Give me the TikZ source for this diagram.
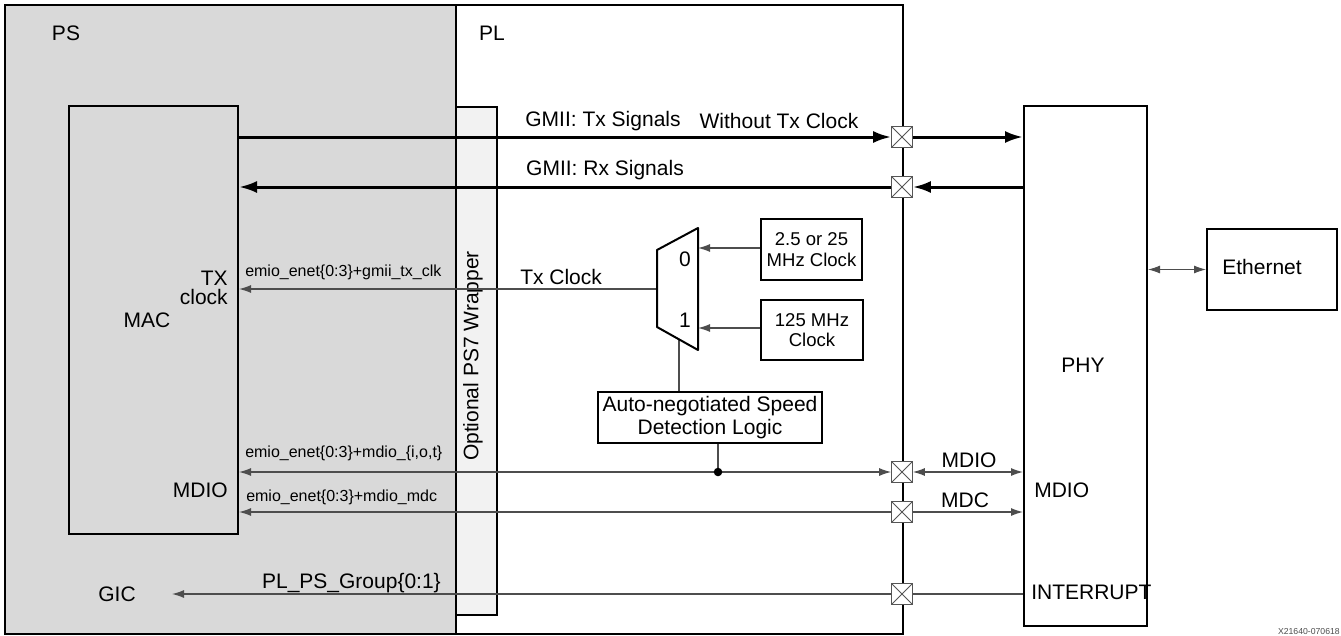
\documentclass[tikz,border=0pt]{standalone}
\usepackage{fontspec}
\setmainfont{Liberation Sans}
\usetikzlibrary{arrows.meta}
\definecolor{psgray}{HTML}{D9D9D9}
\definecolor{wrapgray}{HTML}{F2F2F2}
\definecolor{thingray}{HTML}{4D4D4D}
\definecolor{xgray}{HTML}{555555}
\tikzset{
  blk/.style={draw=black, line width=1.5pt, inner sep=0pt},
  big/.style={font=\fontsize{15.75}{16}\selectfont, inner sep=0pt},
  small/.style={font=\fontsize{12}{13}\selectfont, inner sep=0pt},
  med/.style={font=\fontsize{13.9}{15.5}\selectfont, align=center, inner sep=0pt},
  bus/.style={draw=black, line width=2.25pt},
  sig/.style={draw=thingray, line width=0.9pt},
  bt/.tip={Latex[length=13.5pt,width=9pt]},
  st/.tip={Latex[length=9pt,width=6pt]},
  xbox/.style={draw=xgray, fill=white, line width=0.75pt, minimum size=15.5pt, inner sep=0pt,
    path picture={\draw[xgray, line width=0.75pt]
      (path picture bounding box.north west) -- (path picture bounding box.south east)
      (path picture bounding box.north east) -- (path picture bounding box.south west);}},
}
\begin{document}
\begin{tikzpicture}[x=0.75pt,y=-0.75pt]
\useasboundingbox (0,0) rectangle (1341,635);
% regions
\node[blk, fill=psgray, anchor=north west, minimum width=338.25pt, minimum height=471.75pt] (ps) at (4,4) {};
\node[draw=black, line width=1.2pt, inner sep=0pt, anchor=north west, minimum width=335.25pt, minimum height=471.75pt] (pl) at (455,4) {};
\node[draw=black, line width=1.2pt, fill=wrapgray, inner sep=0pt, anchor=north west, minimum width=30.75pt, minimum height=381pt] (wrap) at (455,106) {};
\node[big, rotate=90] (wraptext) at (473,356) {Optional PS7 Wrapper};
\node[big] (pslabel) at (66,33) {PS};
\node[big] (pllabel) at (492,33) {PL};
% main blocks
\node[blk, anchor=north west, minimum width=126.75pt, minimum height=321pt] (mac) at (68,105) {};
\node[blk, anchor=north west, minimum width=92.25pt, minimum height=390pt] (phy) at (1023,105) {};
\node[blk, anchor=north west, minimum width=97.5pt, minimum height=60.75pt] (eth) at (1206,228) {};
\node[big] (ethtext) at (1262,267) {Ethernet};
\node[big] (phytext) at (1083,365) {PHY};
\node[big] (mactext) at (147,320) {MAC};
\node[font=\fontsize{15.75}{14}\selectfont, inner sep=0pt, align=right, anchor=east] (txclklab) at (228,288) {TX\\clock};
\node[big, anchor=east] (macmdio) at (228,490) {MDIO};
\node[big, anchor=west] (phymdio) at (1034,490) {MDIO};
\node[big, anchor=west] (phyint) at (1031,592) {INTERRUPT};
\node[big] (gic) at (117,594) {GIC};
% clock boxes and logic
\node[blk, med, anchor=north west, minimum width=75.75pt, minimum height=45.75pt] (clka) at (760,218) {2.5 or 25\\MHz Clock};
\node[blk, med, anchor=north west, minimum width=76.5pt, minimum height=45pt] (clkb) at (760,299) {125 MHz\\Clock};
\node[blk, med, font=\fontsize{15.75}{17}\selectfont, anchor=north west, minimum width=168pt, minimum height=38.25pt] (auto) at (597,391) {Auto-negotiated Speed\\Detection Logic};
% mux
\coordinate (mtl) at (657,250);
\coordinate (mtr) at (698,228);
\coordinate (mbr) at (698,350);
\coordinate (mbl) at (657,327);
\coordinate (muxout) at (657,289);
\coordinate (in0) at (698,248);
\coordinate (in1) at (698,328);
\coordinate (sel) at (679,339);
\coordinate (dot) at (718,472);
\coordinate (gictip) at (172,594);
% x-boxes on the PL edge
\node[xbox] (xa) at (902,137) {};
\node[xbox] (xb) at (902,187) {};
\node[xbox] (xc) at (902,472) {};
\node[xbox] (xd) at (902,512) {};
\node[xbox] (xe) at (902,594) {};
% GMII buses
\draw[bus, -{bt}] (mac.east |- xa) -- (xa.west);
\draw[bus, -{bt}] (xa.east) -- (xa -| phy.west);
\draw[bus, -{bt}] (xb -| phy.west) -- (xb.east);
\draw[bus, -{bt}] (xb.west) -- (xb -| mac.east);
\node[big] (txsig) at (603,121) {GMII: Tx Signals};
\node[big] (txwo) at (779,121) {Without Tx Clock};
\node[big] (rxsig) at (605,170) {GMII: Rx Signals};
% Tx clock
\draw[sig, -{st}] (muxout) -- (muxout -| mac.east);
\node[small, anchor=west] (emio1) at (245,272) {emio\_enet\{0:3\}+gmii\_tx\_clk};
\node[big, anchor=west] (txclk) at (520,277) {Tx Clock};
\draw[sig, -{st}] (clka.west |- in0) -- (in0);
\draw[sig, -{st}] (clkb.west |- in1) -- (in1);
\draw[sig] (sel) -- (sel |- auto.north);
\draw[sig] (dot |- auto.south) -- (dot);
\draw[black, line width=1.5pt, fill=white, line join=round] (mtl) -- (mtr) -- (mbr) -- (mbl) -- cycle;
\node[big] (m0) at (685,259) {0};
\node[big] (m1) at (685,320) {1};
% MDIO
\draw[sig, {st}-{st}] (xc -| mac.east) -- (xc.west);
\fill[black] (dot) circle (3.2pt);
\draw[sig, {st}-{st}] (xc.east) -- (xc -| phy.west);
\node[small, anchor=west] (emio2) at (245,453) {emio\_enet\{0:3\}+mdio\_\{i,o,t\}};
\node[big] (mdiolab) at (969,460) {MDIO};
% MDC
\draw[sig, -{st}] (xd.west) -- (xd -| mac.east);
\draw[sig, -{st}] (xd.east) -- (xd -| phy.west);
\node[small, anchor=west] (emio3) at (246,497) {emio\_enet\{0:3\}+mdio\_mdc};
\node[big] (mdclab) at (965,500) {MDC};
% interrupt
\draw[sig] (xe -| phy.west) -- (xe.east);
\draw[sig, -{st}] (xe.west) -- (gictip);
\node[big, anchor=east] (plps) at (441,583) {PL\_PS\_Group\{0:1\}};
% ethernet
\draw[sig, line width=0.75pt, {st}-{st}] (phy.east |- eth) -- (eth.west);
% figure id
\node[font=\fontsize{6.5}{7}\selectfont, text=black!70, anchor=south east, inner sep=0pt] (figid) at (1340,635) {X21640-070618};
\end{tikzpicture}
\end{document}
